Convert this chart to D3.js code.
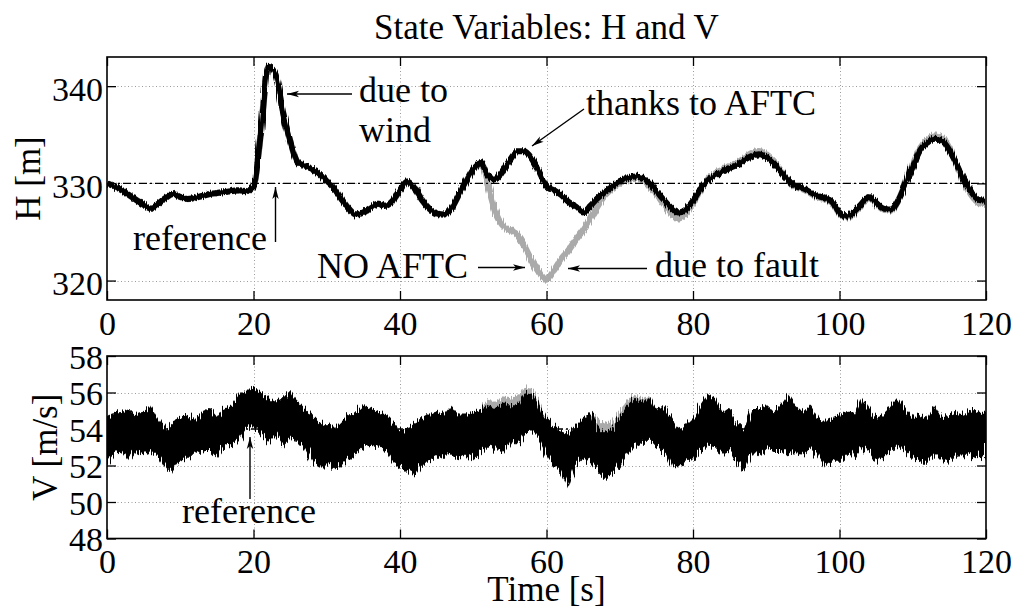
<!DOCTYPE html>
<html><head><meta charset="utf-8">
<script src="https://cdn.jsdelivr.net/npm/d3@7"></script>
<style>
body{margin:0;background:#fff}
svg{display:block}
text{font-family:"Liberation Serif","Times New Roman",Times,serif;fill:#000}
</style>
</head><body>
<svg id="chart" width="1016" height="608"></svg>
<script>
// ---------------- data ----------------
const timeSec = d3.range(0, 121);            // sample times, 1 s apart
const xTicks = [0, 20, 40, 60, 80, 100, 120];
const hTicks = [320, 330, 340];
const vTicks = [48, 50, 52, 54, 56, 58];
const hReference = 330;
const vReference = 54;

// H with AFTC (black)
const hAftc = [
330.0,329.7,329.3,328.8,328.3,327.8,327.4,327.9,328.5,328.9,
328.6,328.4,328.5,328.7,328.9,329.0,329.1,329.2,329.3,329.2,
329.6,335.2,342.0,341.2,337.4,334.4,332.2,331.8,331.5,331.0,
330.2,329.5,328.4,327.4,326.8,327.0,327.5,327.9,327.7,328.2,
329.3,330.2,329.5,328.3,327.4,326.9,326.8,327.4,328.8,330.2,
331.5,332.2,330.8,330.4,331.3,332.4,333.3,333.3,332.5,331.1,
329.7,329.3,328.8,328.1,327.6,327.0,327.7,328.5,329.1,329.7,
330.2,330.5,330.7,330.6,330.1,329.2,328.3,327.5,327.0,327.3,
328.2,329.4,330.3,330.8,331.2,331.6,331.9,332.4,332.8,333.0,
332.7,332.1,331.2,330.3,329.7,329.5,329.1,328.7,328.5,328.1,
327.0,326.6,327.1,327.9,328.6,328.0,327.4,327.3,328.2,329.9,
331.7,333.4,334.2,334.6,334.4,333.4,332.0,330.4,329.1,328.3,
328.2];

// H without AFTC (grey)
const hNoAftc = [
330.0,329.7,329.3,328.8,328.3,327.8,327.4,327.9,328.5,328.9,
328.6,328.4,328.5,328.7,328.9,329.0,329.1,329.2,329.3,329.2,
329.6,335.2,342.0,341.2,337.4,334.4,332.2,331.8,331.5,331.0,
330.2,329.5,328.4,327.4,326.8,327.0,327.5,327.9,327.7,328.2,
329.3,330.2,329.5,328.3,327.4,326.9,326.8,327.4,328.8,330.2,
331.5,332.0,329.8,327.2,325.7,325.2,324.7,323.5,322.0,320.8,
320.1,321.0,322.2,323.1,324.2,325.2,326.4,327.7,328.8,329.5,
330.0,330.3,330.5,330.4,329.8,328.9,327.9,326.9,326.4,326.9,
328.0,329.3,330.4,331.0,331.4,331.8,332.1,332.6,333.1,333.3,
333.0,332.3,331.3,330.3,329.6,329.4,329.0,328.6,328.4,328.0,
326.9,326.5,327.0,327.8,328.5,327.9,327.3,327.2,328.2,330.0,
331.9,333.6,334.5,334.9,334.7,333.6,331.9,330.2,328.8,328.0,
327.9];

// V with AFTC: upper and lower edge of the noisy band
const vHigh = [
54.6,54.95,54.9,55.1,54.8,54.95,55.3,54.6,54.0,54.4,
54.6,54.8,54.4,54.95,55.1,54.6,55.1,55.3,55.9,56.1,
56.3,56.0,55.7,55.5,55.7,56.1,55.5,55.1,54.8,54.4,
54.2,54.0,54.4,54.8,54.95,55.3,55.1,54.95,54.8,54.4,
53.9,54.0,54.4,54.6,54.8,54.95,54.8,55.3,54.8,54.8,
54.95,55.1,55.3,55.1,55.5,55.3,55.3,56.0,55.9,55.3,
54.6,54.2,53.9,53.7,54.2,54.6,54.95,54.0,53.9,54.0,
54.6,55.3,55.7,55.5,55.7,55.1,55.3,54.6,53.9,54.2,
54.6,55.3,55.9,55.7,54.95,55.1,54.4,54.0,55.1,55.1,
55.3,54.95,55.3,55.9,55.3,54.95,55.3,54.6,54.4,54.6,
54.8,54.95,54.8,55.8,55.1,54.6,54.8,55.3,55.7,55.1,
54.6,54.8,54.6,55.3,54.6,54.8,54.95,54.8,55.1,54.95,
54.95];
const vLow = [
52.0,52.6,52.8,52.2,52.8,52.6,52.8,52.6,51.9,51.7,
52.2,52.4,52.6,52.8,52.8,52.4,53.0,53.1,53.3,54.0,
54.2,53.7,53.3,53.7,53.1,53.5,53.3,53.0,52.2,52.0,
52.0,51.9,52.0,52.4,52.6,53.0,53.1,53.0,52.8,52.2,
51.9,51.7,51.4,52.0,52.2,52.4,52.6,52.6,52.4,52.6,
52.4,52.8,53.1,53.0,52.6,53.3,53.1,53.7,53.9,53.5,
52.6,52.0,51.7,50.8,52.0,52.4,52.2,51.7,51.3,51.5,
51.9,52.6,53.1,53.3,53.3,53.1,52.8,51.9,51.9,52.2,
52.4,52.8,53.1,53.0,52.6,52.8,52.2,51.7,52.6,52.6,
53.0,52.8,52.8,52.6,52.8,52.6,53.0,52.6,51.9,52.2,
52.2,52.6,52.4,53.0,52.8,52.2,52.4,52.8,53.1,52.8,
52.4,52.2,52.2,52.6,52.4,52.2,52.6,52.6,52.4,52.6,
52.4];

// V without AFTC: the two stretches where the grey band shows above the black one
const vNoAftcTimesA = [51,52,53,54,55,56,57,58,59,60];
const vNoAftcHighA  = [55.1,55.6,55.5,55.8,55.7,55.8,56.3,56.2,55.5,54.6];
const vNoAftcTimesB = [66,67,68,69,70,71,72,73,74,75];
const vNoAftcHighB  = [54.95,54.5,54.4,54.4,54.9,55.6,55.9,55.7,55.8,55.1];

// ---------------- drawing ----------------
const svg = d3.select("#chart");
const W = 1016, H = 608;
const left = 107, right = 986;
const top1 = 57, bot1 = 300;
const top2 = 356, bot2 = 538.5;
const tickFont = 34, labelFont = 35, noteFont = 36;

const x = d3.scaleLinear().domain([0, 120]).range([left, right]);
const yH = d3.scaleLinear().domain([318, 343]).range([bot1, top1]);
const yV = d3.scaleLinear().domain([48, 58]).range([bot2, top2]);

svg.append("rect").attr("width", W).attr("height", H).attr("fill", "#fff");

const defs = svg.append("defs");
defs.append("marker").attr("id", "arr")
  .attr("viewBox", "0 0 12 8").attr("refX", 12).attr("refY", 4)
  .attr("markerWidth", 12).attr("markerHeight", 8)
  .attr("markerUnits", "userSpaceOnUse").attr("orient", "auto")
  .append("path").attr("d", "M0,0.8 L12,4 L0,7.2 L3,4 Z").attr("fill", "#000");

// texture filters: jagged vertical edges that mimic the sensor noise of the traces
function roughFilter(id, freq, scale) {
  const f = defs.append("filter").attr("id", id)
    .attr("filterUnits", "userSpaceOnUse").attr("x", 0).attr("y", 0).attr("width", W).attr("height", H);
  f.append("feTurbulence").attr("type", "fractalNoise").attr("baseFrequency", freq)
    .attr("numOctaves", 2).attr("seed", 3).attr("result", "n");
  f.append("feDisplacementMap").attr("in", "SourceGraphic").attr("in2", "n")
    .attr("scale", scale).attr("xChannelSelector", "R").attr("yChannelSelector", "G");
}
roughFilter("roughH", "0.9 0.02", 5);
roughFilter("roughV", "0.8 0.01", 14);

function panel(y, yTicks, top, bot, clipId) {
  const g = svg.append("g");
  defs.append("clipPath").attr("id", clipId).append("rect")
    .attr("x", left).attr("y", top).attr("width", right - left).attr("height", bot - top);
  const grid = g.append("g").attr("stroke", "#9a9a9a").attr("stroke-width", 1)
    .attr("stroke-dasharray", "1,2.5");
  grid.selectAll(".gx").data(xTicks.slice(1, -1)).join("line")
    .attr("x1", d => Math.round(x(d)) + 0.5).attr("x2", d => Math.round(x(d)) + 0.5)
    .attr("y1", top).attr("y2", bot);
  grid.selectAll(".gy").data(yTicks.filter(d => d > y.domain()[0] && d < y.domain()[1])).join("line")
    .attr("y1", d => Math.round(y(d)) + 0.5).attr("y2", d => Math.round(y(d)) + 0.5)
    .attr("x1", left).attr("x2", right);
  return g;
}

function frame(y, yTicks, top, bot, ldy, pad) {
  const axB = svg.append("g").attr("transform", `translate(0,${bot})`)
    .call(d3.axisBottom(x).tickValues(xTicks).tickSizeInner(-9).tickSizeOuter(0).tickPadding(pad));
  const axT = svg.append("g").attr("transform", `translate(0,${top})`)
    .call(d3.axisTop(x).tickValues(xTicks).tickSizeInner(-9).tickSizeOuter(0).tickFormat(""));
  const axL = svg.append("g").attr("transform", `translate(${left},0)`)
    .call(d3.axisLeft(y).tickValues(yTicks).tickSizeInner(-9).tickSizeOuter(0).tickPadding(4));
  const axR = svg.append("g").attr("transform", `translate(${right},0)`)
    .call(d3.axisRight(y).tickValues(yTicks).tickSizeInner(-9).tickSizeOuter(0).tickFormat(""));
  [axB, axT, axL, axR].forEach(a => {
    a.select(".domain").remove();
    a.selectAll("line").attr("stroke", "#000").attr("stroke-width", 1.3);
    a.selectAll("text").style("font-family", '"Liberation Serif",serif')
      .style("font-size", tickFont + "px").attr("fill", "#000");
  });
  axL.selectAll("text").attr("dy", ldy);
  svg.append("rect").attr("x", left).attr("y", top).attr("width", right - left).attr("height", bot - top)
    .attr("fill", "none").attr("stroke", "#000").attr("stroke-width", 1.6);
}

// ----- top panel: H -----
const g1 = panel(yH, hTicks, top1, bot1, "clip1");
const d1 = g1.append("g").attr("clip-path", "url(#clip1)");
const lineH = arr => d3.line().x((d, i) => x(timeSec[i])).y(d => yH(d)).curve(d3.curveMonotoneX)(arr);
const traces1 = d1.append("g").attr("filter", "url(#roughH)");
traces1.append("path").attr("d", lineH(hNoAftc)).attr("fill", "none")
  .attr("stroke", "#aaaaaa").attr("stroke-width", 6.5).attr("stroke-linejoin", "round");
traces1.append("path").attr("d", lineH(hAftc)).attr("fill", "none")
  .attr("stroke", "#000").attr("stroke-width", 6).attr("stroke-linejoin", "round");
d1.append("line").attr("x1", left).attr("x2", right)
  .attr("y1", yH(hReference)).attr("y2", yH(hReference))
  .attr("stroke", "#000").attr("stroke-width", 1.3).attr("stroke-dasharray", "8,3,2,3");
frame(yH, hTicks, top1, bot1, "0.41em", 11);

// ----- bottom panel: V -----
const g2 = panel(yV, vTicks, top2, bot2, "clip2");
const d2 = g2.append("g").attr("clip-path", "url(#clip2)");
d2.append("line").attr("x1", left).attr("x2", right)
  .attr("y1", yV(vReference)).attr("y2", yV(vReference))
  .attr("stroke", "#000").attr("stroke-width", 1.3).attr("stroke-dasharray", "8,3,2,3");
const traces2 = d2.append("g").attr("filter", "url(#roughV)");
[[vNoAftcTimesA, vNoAftcHighA], [vNoAftcTimesB, vNoAftcHighB]].forEach(([ts, hs]) => {
  const idx = ts.map(t => timeSec.indexOf(t));
  traces2.append("path")
    .attr("d", d3.area().x((d, k) => x(ts[k])).y0((d, k) => yV(vLow[idx[k]])).y1(d => yV(d))(hs))
    .attr("fill", "#aaaaaa");
});
traces2.append("path")
  .attr("d", d3.area().x((d, i) => x(timeSec[i])).y0((d, i) => yV(vLow[i])).y1(d => yV(d))(vHigh))
  .attr("fill", "#000");
frame(yV, vTicks, top2, bot2, "0.36em", 10);

// ----- titles and labels -----
svg.append("text").attr("x", (left + right) / 2).attr("y", 39).attr("text-anchor", "middle")
  .style("font-size", labelFont + "px").text("State Variables: H and V");
svg.append("text").attr("transform", `translate(40,${(top1 + bot1) / 2}) rotate(-90)`)
  .attr("text-anchor", "middle").style("font-size", labelFont + "px").text("H [m]");
svg.append("text").attr("transform", `translate(57,${(top2 + bot2) / 2}) rotate(-90)`)
  .attr("text-anchor", "middle").style("font-size", labelFont + "px").text("V [m/s]");
svg.append("text").attr("x", (left + right) / 2).attr("y", 601).attr("text-anchor", "middle")
  .style("font-size", labelFont + "px").text("Time [s]");

// ----- annotations -----
function note(txt, xx, yy) {
  svg.append("text").attr("x", xx).attr("y", yy).style("font-size", noteFont + "px").text(txt);
}
function arrow(x1, y1, x2, y2) {
  svg.append("line").attr("x1", x1).attr("y1", y1).attr("x2", x2).attr("y2", y2)
    .attr("stroke", "#000").attr("stroke-width", 1.4).attr("marker-end", "url(#arr)");
}
note("due to", 359, 102);
note("wind", 359, 142);
arrow(352, 94, 287, 94);
note("thanks to AFTC", 586, 115);
arrow(584, 109, 532, 146);
note("reference", 133, 250);
arrow(275.5, 242, 275.5, 187);
note("NO AFTC", 317, 278);
arrow(478, 267.5, 525, 267.5);
note("due to fault", 655, 277);
arrow(647, 268.5, 568, 268.5);
note("reference", 182, 523);
arrow(250, 499, 250, 437);
</script>
</body></html>
